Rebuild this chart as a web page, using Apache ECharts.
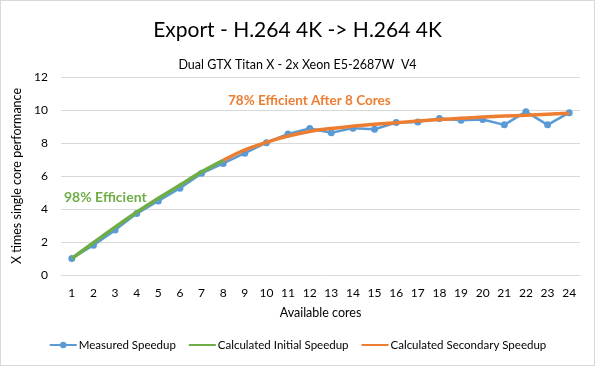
<!DOCTYPE html>
<html><head><meta charset="utf-8">
<script src="https://cdn.jsdelivr.net/npm/echarts@6/dist/echarts.min.js"></script>
<style>html,body{margin:0;padding:0;background:#fff}#c{width:593px;height:364px;border:1px solid #d9d9d9}</style>
</head><body><div id="c"></div>
<script>
const categories = ['1','2','3','4','5','6','7','8','9','10','11','12','13','14','15','16','17','18','19','20','21','22','23','24'];
const measured = [1.0,1.8,2.72,3.72,4.49,5.26,6.16,6.76,7.38,8.02,8.55,8.88,8.62,8.9,8.83,9.24,9.28,9.48,9.38,9.42,9.1,9.9,9.1,9.84];
const initial = [1.0,1.96,2.9,3.8,4.65,5.45,6.25,6.95,null,null,null,null,null,null,null,null,null,null,null,null,null,null,null,null];
const secondary = [null,null,null,null,null,null,null,6.95,7.58,8.04,8.42,8.7,8.88,9.02,9.13,9.23,9.33,9.42,9.5,9.57,9.63,9.68,9.74,9.8];
const yTicks = {min:0,max:12,interval:2};
const FONT = 'Lato';
const chart = echarts.init(document.getElementById('c'));
chart.setOption({
  animation:false,
  textStyle:{fontFamily:FONT},
  title:[
    {text:'Export - H.264 4K -> H.264 4K',left:'center',top:14,textStyle:{fontFamily:FONT,fontSize:21,fontWeight:'normal',color:'#000'}},
    {text:'Dual GTX Titan X - 2x Xeon E5-2687W  V4',left:'center',top:52,textStyle:{fontFamily:FONT,fontSize:12.5,fontWeight:'normal',color:'#000'}}
  ],
  grid:{left:60,right:14,top:76,bottom:90},
  xAxis:{type:'category',data:categories,boundaryGap:true,
    name:'Available cores',nameLocation:'middle',nameGap:31,
    nameTextStyle:{fontFamily:FONT,fontSize:12.5,color:'#000'},
    axisLine:{lineStyle:{color:'#d9d9d9'}},axisTick:{show:false},
    axisLabel:{color:'#000',fontSize:12,margin:12,fontFamily:FONT}},
  yAxis:{type:'value',min:yTicks.min,max:yTicks.max,interval:yTicks.interval,
    name:'X times single core performance',nameLocation:'middle',nameGap:24,
    nameTextStyle:{fontFamily:FONT,fontSize:12.5,color:'#000'},
    axisLabel:{color:'#000',fontSize:12,margin:13,fontFamily:FONT},
    splitLine:{lineStyle:{color:'#d9d9d9'}}},
  legend:{bottom:9,itemGap:12,itemWidth:27,itemHeight:8,
    textStyle:{fontFamily:FONT,fontSize:11.5,color:'#000',padding:[0,0,0,-3]},
    data:[
      {name:'Measured Speedup'},
      {name:'Calculated Initial Speedup',itemStyle:{opacity:0}},
      {name:'Calculated Secondary Speedup',itemStyle:{opacity:0}}
    ]},
  series:[
    {name:'Measured Speedup',type:'line',data:measured,symbol:'circle',symbolSize:7,
      lineStyle:{color:'#5B9BD5',width:2.5},itemStyle:{color:'#5B9BD5'},z:2},
    {name:'Calculated Secondary Speedup',type:'line',data:secondary,symbol:'none',smooth:0.3,
      lineStyle:{color:'#ED7D31',width:3.5},itemStyle:{color:'#ED7D31'},z:3},
    {name:'Calculated Initial Speedup',type:'line',data:initial,symbol:'none',smooth:0.3,
      lineStyle:{color:'#70AD47',width:3.5},itemStyle:{color:'#70AD47'},z:4}
  ],
  graphic:[
    {type:'text',left:63,top:189,style:{text:'98% Efficient',fill:'#70AD47',font:'bold 14px Lato'}},
    {type:'text',left:227,top:93,style:{text:'78% Efficient After 8 Cores',fill:'#ED7D31',font:'bold 13.5px Lato'}}
  ]
});
</script></body></html>
